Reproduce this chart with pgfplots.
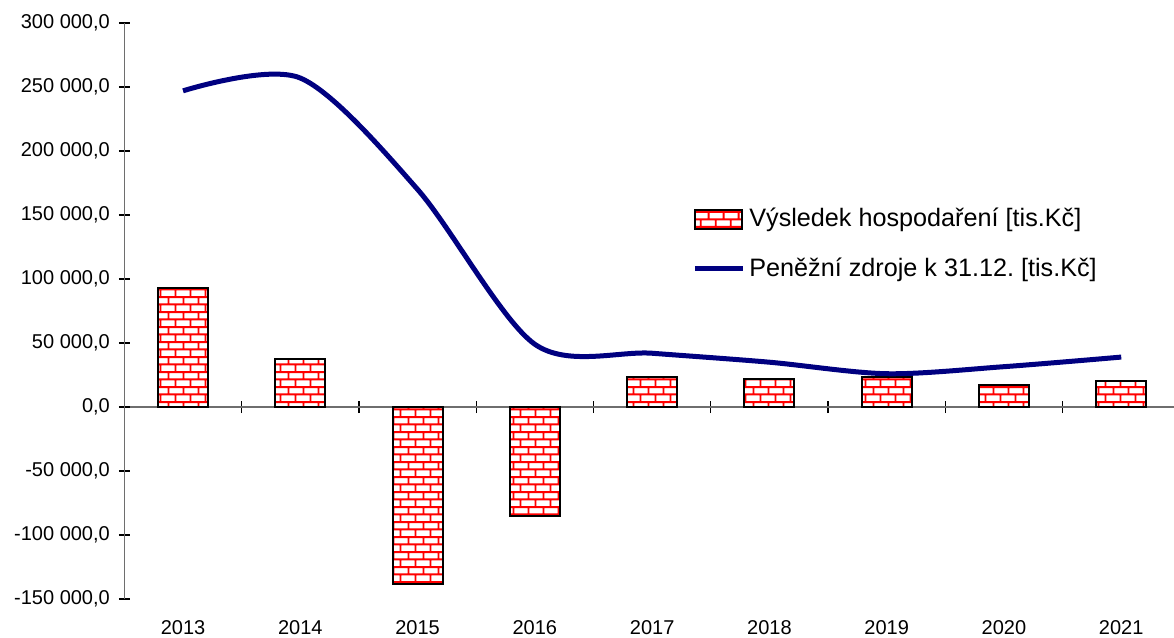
\documentclass[border=0pt]{standalone}
\usepackage{pgfplots}
\pgfplotsset{compat=1.18}
\usepackage{fontspec}
\setmainfont{Liberation Sans}
\usetikzlibrary{patterns.meta}
\definecolor{navyline}{RGB}{0,0,128}
\definecolor{axgray}{RGB}{110,110,110}

\pgfdeclarepattern{
  name=mybricks,
  type=uncolored,
  bottom left={\pgfpoint{0pt}{0pt}},
  top right={\pgfpoint{7.5pt}{7.4pt}},
  tile size={\pgfpoint{7.5pt}{7.4pt}},
  code={
    \pgfsetlinewidth{1pt}
    \pgfpathmoveto{\pgfpoint{-1pt}{1.85pt}}\pgfpathlineto{\pgfpoint{8.5pt}{1.85pt}}
    \pgfpathmoveto{\pgfpoint{-1pt}{5.55pt}}\pgfpathlineto{\pgfpoint{8.5pt}{5.55pt}}
    \pgfpathmoveto{\pgfpoint{1.875pt}{1.85pt}}\pgfpathlineto{\pgfpoint{1.875pt}{5.55pt}}
    \pgfpathmoveto{\pgfpoint{5.625pt}{5.55pt}}\pgfpathlineto{\pgfpoint{5.625pt}{8.5pt}}
    \pgfpathmoveto{\pgfpoint{5.625pt}{-1pt}}\pgfpathlineto{\pgfpoint{5.625pt}{1.85pt}}
    \pgfusepath{stroke}
  }
}

\pgfplotsset{
  brickleg/.style={legend image code/.code={\draw[##1] (0pt,-4.75pt) rectangle (23.5pt,4.75pt);}},
  lineleg/.style={legend image code/.code={\draw[##1] (0pt,0pt) -- (24pt,0pt);}},
  common/.style={scale only axis, width=524.8pt, height=288pt,
    xmin=-0.5, xmax=8.45, ymin=-150000, ymax=300000},
}

\pgfplotstableread{
x year res cash
0 2013 93300 247000
1 2014 37500 257000
2 2015 -138500 170000
3 2016 -85000 49000
4 2017 23200 42000
5 2018 21600 35000
6 2019 23200 26000
7 2020 17200 31500
8 2021 20300 39000
}\datatable

\begin{document}
\begin{tikzpicture}
% background x axis line at y=0 with ticks between categories
\begin{axis}[common,
  axis x line*=middle, axis y line=none,
  xtick={0.5,1.5,2.5,3.5,4.5,5.5,6.5,7.5}, xticklabels={},
  ytick=\empty,
  tick align=center, major tick length=6pt,
  x axis line style={axgray, line width=0.7pt},
  major tick style={black, line width=0.6pt},
]
\addplot[draw=none, forget plot] coordinates {(0,0)};
\end{axis}
\begin{axis}[common, name=ax,
  axis lines*=left,
  x axis line style={draw=none},
  y axis line style={axgray, line width=0.7pt},
  xtick={0,...,8},
  xticklabels={2013,2014,2015,2016,2017,2018,2019,2020,2021},
  major x tick style={draw=none},
  ytick={-150000,-100000,...,300000},
  major y tick style={black, line width=0.6pt},
  tick align=center, major tick length=5.5pt,
  scaled y ticks=false,
  tick label style={font=\fontsize{10}{12}\selectfont},
  yticklabel style={xshift=-1pt, /pgf/number format/.cd, fixed, fixed zerofill, precision=1,
     use comma, 1000 sep={\ }, assume math mode=true},
  xticklabel style={yshift=-4.5pt},
  legend style={at={(0.535,0.6927)}, anchor=north west, draw=none, fill=none,
     font=\fontsize{12.6}{15}\selectfont\frenchspacing, row sep=10pt},
  legend cell align=left,
]
\addplot[ybar, bar width=25pt, draw=black, line width=1pt,
  preaction={fill=white}, pattern={mybricks}, pattern color=red, brickleg]
  table[x=x, y=res] {\datatable};
\addlegendentry{Výsledek hospodaření [tis.Kč]}
\addplot[navyline, line width=2.5pt, smooth, tension=0.5, mark=none, lineleg]
  table[x=x, y=cash] {\datatable};
\addlegendentry{Peněžní zdroje k 31.12. [tis.Kč]}
\end{axis}
\pgfresetboundingbox
\path ([xshift=-62.2pt,yshift=-19pt]ax.south west) rectangle ([yshift=11.5pt]ax.north east);
\end{tikzpicture}
\end{document}
